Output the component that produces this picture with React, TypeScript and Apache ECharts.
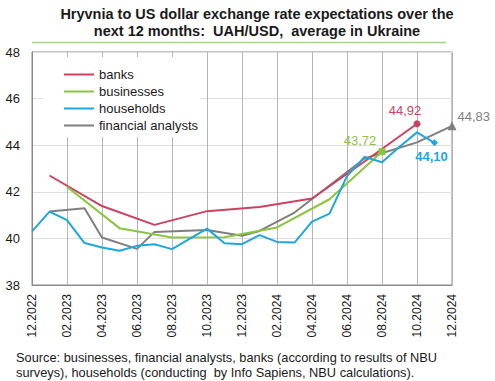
import React, { useEffect, useRef } from "react";
import * as echarts from "echarts";

const months: string[] = [
  "12.2022", "01.2023", "02.2023", "03.2023", "04.2023", "05.2023", "06.2023",
  "07.2023", "08.2023", "09.2023", "10.2023", "11.2023", "12.2023", "01.2024",
  "02.2024", "03.2024", "04.2024", "05.2024", "06.2024", "07.2024", "08.2024",
  "09.2024", "10.2024", "11.2024", "12.2024",
];

const banks: (number | null)[] = [
  null, 42.7, null, null, 41.39, null, null, 40.58, null, null, 41.17, null, null,
  41.35, null, null, 41.71, null, null, 43.3, null, null, 44.92, null, null,
];

const businesses: (number | null)[] = [
  null, null, 42.22, null, null, 40.44, null, null, 40.04, null, null, 40.05, null,
  null, 40.47, null, null, 41.68, null, null, 43.72, null, null, null, null,
];

const households: (number | null)[] = [
  40.3, 41.15, 40.78, 39.8, 39.61, 39.47, 39.68, 39.75, 39.54, 39.98, 40.42, 39.79,
  39.75, 40.14, 39.85, 39.82, 40.72, 41.06, 42.67, 43.5, 43.27, 43.93, 44.55, 44.1, null,
];

const analysts: (number | null)[] = [
  null, 41.15, null, 41.29, 40.04, null, 39.55, 40.28, null, null, 40.36, null,
  40.11, 40.32, null, 41.11, null, null, null, 43.43, null, null, 44.12, null, 44.83,
];

const seriesNames = ["banks", "businesses", "households", "financial analysts"];
const colors = ["#cc4262", "#8cc43f", "#1fa6df", "#7f7f7f"];
const endSymbols = ["circle", "rect", "diamond", "triangle"];

const titleText =
  "Hryvnia to US dollar exchange rate expectations over the\nnext 12 months:  UAH/USD,  average in Ukraine";
const sourceLine1 =
  "Source: businesses, financial analysts, banks (according to results of NBU";
const sourceLine2 =
  "surveys), households (conducting  by Info Sapiens, NBU calculations).";

const FONT = "Liberation Sans, Arial, sans-serif";

function fmt(v: number) {
  return v.toFixed(2).replace(".", ",");
}

export default function App() {
  const ref = useRef<HTMLDivElement>(null);

  useEffect(() => {
    if (!ref.current) return;
    const chart = echarts.init(ref.current, undefined, { renderer: "svg" });

    const all = [banks, businesses, households, analysts];
    const labelCfg = [
      { position: "top", offset: [-12, 2], fontWeight: "normal" },
      { position: "top", offset: [-22, 4], fontWeight: "normal" },
      { position: "bottom", offset: [-3, -1], fontWeight: "bold" },
      { position: "right", offset: [-4, -9], fontWeight: "normal" },
    ];

    const series = all.map((arr, si) => {
      let last = -1;
      arr.forEach((v, i) => {
        if (v != null) last = i;
      });
      const data = arr.map((v, i) => {
        if (v == null) return null;
        if (i === last) {
          return {
            value: v,
            symbol: endSymbols[si],
            symbolSize: si === 3 ? 9 : 7,
            label: {
              show: true,
              position: labelCfg[si].position,
              offset: labelCfg[si].offset,
              formatter: () => fmt(v),
              color: colors[si],
              fontSize: 13,
              fontWeight: labelCfg[si].fontWeight,
              fontFamily: FONT,
            },
          };
        }
        return v;
      });
      return {
        name: seriesNames[si],
        type: "line",
        data,
        connectNulls: true,
        symbol: "none",
        lineStyle: { color: colors[si], width: 2 },
        itemStyle: { color: colors[si] },
        z: 3 + (si === 3 ? -1 : 0),
      };
    });

    chart.setOption({
      animation: false,
      title: {
        text: titleText,
        left: 252,
        top: 0,
        textAlign: "center",
        textStyle: {
          fontSize: 14.5,
          fontWeight: "bold",
          lineHeight: 17,
          fontFamily: FONT,
          color: "#1a1a1a",
        },
      },
      legend: {
        orient: "vertical",
        left: 58,
        top: 63,
        itemWidth: 30,
        itemHeight: 14,
        itemGap: 4,
        data: seriesNames,
        itemStyle: { opacity: 0 },
        textStyle: { fontSize: 13, fontFamily: FONT, color: "#1a1a1a" },
        z: 6,
      },
      grid: {
        left: 32,
        right: 43,
        top: 52,
        bottom: 96,
        show: true,
        borderColor: "#8a8a8a",
        borderWidth: 1,
        backgroundColor: "transparent",
      },
      xAxis: {
        type: "category",
        data: months,
        boundaryGap: false,
        axisLine: { show: true, lineStyle: { color: "#8a8a8a" } },
        axisTick: { show: false, interval: 1 },
        axisLabel: {
          interval: 1,
          rotate: 90,
          margin: 9,
          fontSize: 12,
          fontFamily: FONT,
          color: "#1a1a1a",
        },
        splitLine: { show: true, interval: 1, lineStyle: { color: "#b5b5b5", width: 1 } },
      },
      yAxis: {
        type: "value",
        min: 38,
        max: 48,
        interval: 2,
        axisLine: { show: true, lineStyle: { color: "#8a8a8a" } },
        axisTick: { show: false },
        axisLabel: {
          margin: 12,
          fontSize: 13,
          fontFamily: FONT,
          color: "#1a1a1a",
        },
        splitLine: { show: true, lineStyle: { color: "#dedede", width: 1 } },
      },
      graphic: [
        {
          type: "line",
          shape: { x1: 32, y1: 42.5, x2: 446, y2: 42.5 },
          style: { stroke: "#a9d08e", lineWidth: 1.5 },
          z: 5,
        },
        {
          type: "rect",
          shape: { x: 44, y: 57, width: 156, height: 80 },
          style: { fill: "#ffffff" },
          z: 1,
        },
        {
          type: "text",
          left: 16,
          top: 351,
          style: {
            text: sourceLine1,
            fontSize: 12.8,
            fontFamily: FONT,
            fill: "#1a1a1a",
          },
          z: 5,
        },
        {
          type: "text",
          left: 16,
          top: 366,
          style: {
            text: sourceLine2,
            fontSize: 12.8,
            fontFamily: FONT,
            fill: "#1a1a1a",
          },
          z: 5,
        },
      ],
      series,
    });

    return () => chart.dispose();
  }, []);

  return (
    <div
      ref={ref}
      style={{ position: "fixed", left: 0, top: 0, width: 495, height: 381, background: "#fff" }}
    />
  );
}
